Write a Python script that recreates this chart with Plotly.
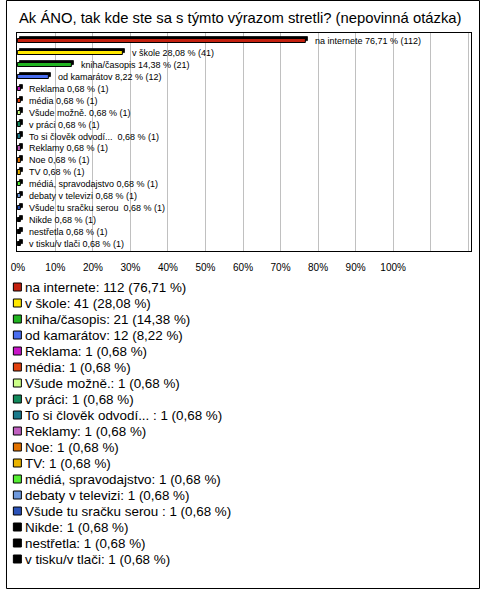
import plotly.graph_objects as go

categories = ["na internete", "v škole", "kniha/časopis", "od kamarátov", "Reklama", "média",
              "Všude možně.", "v práci", "To si člověk odvodí... ", "Reklamy", "Noe", "TV",
              "médiá, spravodajstvo", "debaty v televizi", "Všude tu sračku serou ", "Nikde",
              "nestřetla", "v tisku/v tlači"]
counts = [112, 41, 21, 12, 1, 1, 1, 1, 1, 1, 1, 1, 1, 1, 1, 1, 1, 1]
percents = [76.71, 28.08, 14.38, 8.22] + [0.68] * 14
colors = ["#c4210f", "#ffe800", "#21b421", "#4a6ef0", "#c815c8", "#e2410f", "#ccff88", "#128a5c",
          "#1b7a8c", "#c060c0", "#e27200", "#eab400", "#55ee33", "#6e99dd", "#2a52b8",
          "#000000", "#000000", "#000000"]
tick_vals = [0, 10, 20, 30, 40, 50, 60, 70, 80, 90, 100, 110, 120]
tick_text = ["0%", "10%", "20%", "30%", "40%", "50%", "60%", "70%", "80%", "90%", "100%", "", ""]
title = "Ak ÁNO, tak kde ste sa s týmto výrazom stretli? (nepovinná otázka)"

FONT = "Liberation Sans, Arial, sans-serif"
W, H = 480, 589

def fmt(p):
    return f"{p:.2f}".replace(".", ",")

rows = list(range(len(categories)))

fig = go.Figure()
# depth (3D back face)
fig.add_trace(go.Bar(
    y=rows, x=percents, base=[0.53] * len(rows), orientation="h",
    width=0.36, offset=-0.18 - 0.17,
    marker=dict(color="#000000", line=dict(color="#000000", width=0.8)),
    hoverinfo="skip", showlegend=False, xaxis="x", yaxis="y"))
# front face
fig.add_trace(go.Bar(
    y=rows, x=percents, orientation="h",
    width=0.36, offset=-0.18,
    marker=dict(color=colors, line=dict(color="#000000", width=1)),
    showlegend=False, xaxis="x", yaxis="y"))

annotations = []
for i, (c, n, p) in enumerate(zip(categories, counts, percents)):
    annotations.append(dict(
        x=p, y=i, xref="x", yref="y", xanchor="left", yanchor="middle",
        xshift=7, showarrow=False, text=f"{c} {fmt(p)} % ({n})",
        font=dict(family=FONT, size=9, color="#000000")))

# legend (own axes, pixel-like coordinates)
leg_y = [287 + 16 * i for i in rows]
fig.add_trace(go.Scatter(
    x=[11.5] * len(rows), y=leg_y, mode="markers",
    marker=dict(symbol="square", size=8, color=colors, line=dict(color="#000000", width=1)),
    showlegend=False, hoverinfo="skip", xaxis="x2", yaxis="y2", cliponaxis=False))
for i, (c, n, p) in enumerate(zip(categories, counts, percents)):
    annotations.append(dict(
        x=17, y=leg_y[i], xref="x2", yref="y2", xanchor="left", yanchor="middle",
        showarrow=False, text=f"{c}: {n} ({fmt(p)} %)",
        font=dict(family=FONT, size=13.4, color="#000000")))

annotations.append(dict(
    x=237 / W, y=1 - 18 / H, xref="paper", yref="paper", xanchor="center", yanchor="middle",
    showarrow=False, text=title, font=dict(family=FONT, size=14.8, color="#000000")))

scale = 3.8
x0 = -1 / scale
x1 = x0 + 460 / scale

fig.update_layout(
    width=W, height=H, margin=dict(l=0, r=0, t=0, b=0),
    paper_bgcolor="#ffffff", plot_bgcolor="#ffffff",
    barmode="overlay", bargap=0,
    annotations=annotations,
    xaxis=dict(domain=[11 / W, 471 / W], range=[x0, x1], tickvals=tick_vals, ticktext=tick_text,
               showgrid=True, gridcolor="#c0c0c0", gridwidth=1, zeroline=False,
               showline=True, linecolor="#000000", linewidth=1, mirror=True,
               ticks="", ticklabelstandoff=7,
               tickfont=dict(family=FONT, size=10, color="#000000"), anchor="y", fixedrange=True),
    yaxis=dict(domain=[1 - 251 / H, 1 - 33 / H], range=[17.586, -0.67], showticklabels=False,
               showgrid=False, zeroline=False, showline=True, linecolor="#000000", linewidth=1,
               mirror=True, ticks="", anchor="x", fixedrange=True),
    xaxis2=dict(domain=[0, 1], range=[0, W], visible=False, anchor="y2", fixedrange=True),
    yaxis2=dict(domain=[0, 1 - 270 / H], range=[H, 270], visible=False, anchor="x2", fixedrange=True),
    shapes=[dict(type="rect", xref="paper", yref="paper", x0=0.5 / W, x1=1 - 0.5 / W,
                 y0=0.5 / H, y1=1 - 0.5 / H, line=dict(color="#000000", width=1))],
)

fig.write_html("out.html", config={"displayModeBar": False},
               post_script="document.body.style.margin='0px';document.body.style.overflow='hidden';")
